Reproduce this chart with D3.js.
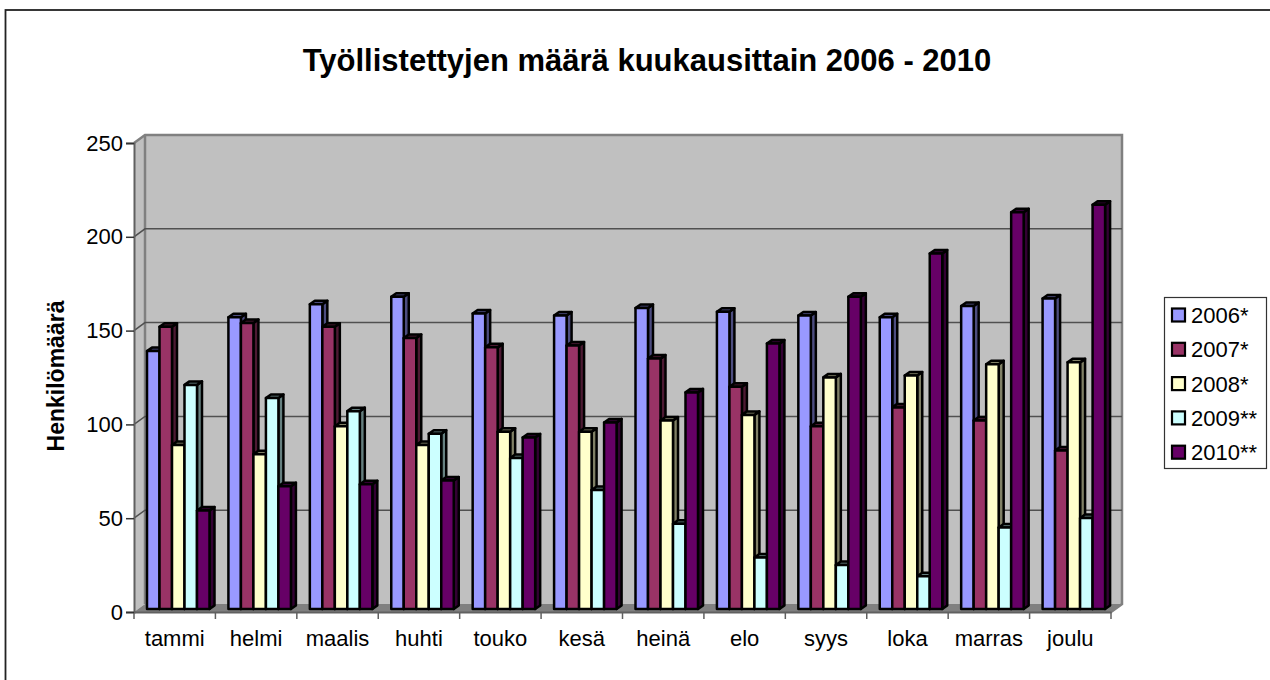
<!DOCTYPE html>
<html>
<head>
<meta charset="utf-8">
<script src="https://cdn.jsdelivr.net/npm/d3@7"></script>
<style>
    html, body { margin: 0; padding: 0; background: #fff; overflow: hidden; }
    svg { display: block; }
    text { font-family: "Liberation Sans", Arial, sans-serif; fill: #000; }
</style>
</head>
<body>
<div id="chart"></div>
<script>
const months = ["tammi", "helmi", "maalis", "huhti", "touko", "kesä", "heinä", "elo", "syys", "loka", "marras", "joulu"];
const seriesNames = ["2006*", "2007*", "2008*", "2009**", "2010**"];
const values2006 = [138, 156, 163, 167, 158, 157, 161, 159, 157, 156, 162, 166];
const values2007 = [151, 153, 151, 145, 140, 141, 134, 119, 98, 108, 101, 85];
const values2008 = [88, 83, 98, 88, 95, 95, 101, 104, 124, 125, 131, 132];
const values2009 = [120, 113, 106, 94, 81, 64, 46, 28, 24, 18, 44, 49];
const values2010 = [53, 66, 67, 69, 92, 100, 116, 142, 167, 190, 212, 216];
const yTicks = [0, 50, 100, 150, 200, 250];

const allValues = [values2006, values2007, values2008, values2009, values2010];
const fills = ["#9999ff", "#993366", "#ffffcc", "#ccffff", "#660066"];

const width = 1270;
const height = 680;
const axisLeft = 134;
const axisRight = 1111;
const axisBottom = 612;
const axisTop = 143;
// how far the back wall sits from the front axes
const wallDx = 11;
const wallDy = 8;
const barDx = 5;
const barDy = 3.5;

const svg = d3.select("#chart").append("svg")
    .attr("width", width)
    .attr("height", height);

// the frame runs off the canvas on the right and at the bottom
svg.append("rect")
    .attr("x", 5.5).attr("y", 10)
    .attr("width", 1300).attr("height", 700)
    .attr("fill", "#fff").attr("stroke", "#222").attr("stroke-width", 1.8);

const x = d3.scaleBand().domain(months).range([axisLeft, axisRight]);
const xSeries = d3.scaleBand().domain(seriesNames).range([13, 13 + 62.5]);
const y = d3.scaleLinear().domain([0, 250]).range([axisBottom, axisTop]);

// walls and floor
svg.append("polygon")
    .attr("points", [[axisLeft, axisTop], [axisLeft + wallDx, axisTop - wallDy], [axisLeft + wallDx, axisBottom - wallDy], [axisLeft, axisBottom]].join(" "))
    .attr("fill", "#c0c0c0");
svg.append("rect")
    .attr("x", axisLeft + wallDx).attr("y", axisTop - wallDy)
    .attr("width", axisRight - axisLeft).attr("height", axisBottom - axisTop)
    .attr("fill", "#c0c0c0");
svg.append("polygon")
    .attr("points", [[axisLeft, axisBottom], [axisLeft + wallDx, axisBottom - wallDy], [axisRight + wallDx, axisBottom - wallDy], [axisRight, axisBottom]].join(" "))
    .attr("fill", "#808080");

// back wall edges
svg.append("path")
    .attr("d", `M${axisLeft},${axisTop}L${axisLeft + wallDx},${axisTop - wallDy}H${axisRight + wallDx}V${axisBottom - wallDy}L${axisRight},${axisBottom}`)
    .attr("fill", "none").attr("stroke", "#808080").attr("stroke-width", 2.5);
svg.append("line")
    .attr("x1", axisLeft + wallDx).attr("x2", axisLeft + wallDx)
    .attr("y1", axisTop - wallDy).attr("y2", axisBottom - wallDy)
    .attr("stroke", "#808080").attr("stroke-width", 2.5);

// gridlines
const grid = svg.append("g");
yTicks.slice(1, -1).forEach((t) => {
    grid.append("path")
        .attr("d", `M${axisLeft},${y(t)}l${wallDx},${-wallDy}H${axisRight + wallDx}`)
        .attr("fill", "none").attr("stroke", "#505050").attr("stroke-width", 1.5);
});

// bars, one month at a time
const bw = xSeries.bandwidth();
months.forEach((m, i) => {
    const group = svg.append("g").attr("transform", `translate(${x(m)},0)`);
    seriesNames.forEach((s, k) => {
        const v = allValues[k][i];
        const x0 = xSeries(s);
        const yTop = y(v) - 2;
        const yBot = axisBottom - 3;
        const bar = group.append("g")
            .attr("stroke", "#000").attr("stroke-width", 2.5).attr("stroke-linejoin", "round");
        const c = d3.rgb(fills[k]);
        const shade = d3.rgb(c.r * 0.5, c.g * 0.5, c.b * 0.5);
        bar.append("polygon")
            .attr("points", [[x0 + bw, yTop], [x0 + bw + barDx, yTop - barDy], [x0 + bw + barDx, yBot - barDy], [x0 + bw, yBot]].join(" "))
            .attr("fill", shade);
        bar.append("polygon")
            .attr("points", [[x0, yTop], [x0 + barDx, yTop - barDy], [x0 + bw + barDx, yTop - barDy], [x0 + bw, yTop]].join(" "))
            .attr("fill", shade);
        bar.append("rect")
            .attr("x", x0).attr("y", yTop)
            .attr("width", bw).attr("height", yBot - yTop)
            .attr("fill", fills[k]);
    });
});

// axes
const xAxis = svg.append("g")
    .attr("transform", `translate(0,${axisBottom})`)
    .call(d3.axisBottom(x).tickSize(0).tickPadding(18));
xAxis.select(".domain").attr("stroke", "#606060").attr("stroke-width", 2);
xAxis.selectAll("text").style("font-size", "22px");
xAxis.selectAll(".tick-mark")
    .data(d3.range(months.length + 1))
    .enter().append("line")
    .attr("x1", (d) => axisLeft + d * x.bandwidth())
    .attr("x2", (d) => axisLeft + d * x.bandwidth())
    .attr("y1", 0).attr("y2", 7)
    .attr("stroke", "#606060").attr("stroke-width", 1.5);

const yAxis = svg.append("g")
    .attr("transform", `translate(${axisLeft},0)`)
    .call(d3.axisLeft(y).tickValues(yTicks).tickSize(8).tickPadding(3));
yAxis.select(".domain").attr("stroke", "#606060").attr("stroke-width", 2);
yAxis.selectAll("line").attr("stroke", "#333").attr("stroke-width", 1.5);
yAxis.selectAll("text").style("font-size", "22px");

// titles
svg.append("text")
    .attr("x", 647).attr("y", 71)
    .attr("text-anchor", "middle")
    .style("font-size", "31px").style("font-weight", "bold")
    .text("Työllistettyjen määrä kuukausittain 2006 - 2010");

svg.append("text")
    .attr("transform", "translate(64,376) rotate(-90)")
    .attr("text-anchor", "middle")
    .style("font-size", "23px").style("font-weight", "bold")
    .text("Henkilömäärä");

// legend
const legend = svg.append("g");
legend.append("rect")
    .attr("x", 1164.5).attr("y", 297.5)
    .attr("width", 102).attr("height", 171)
    .attr("fill", "#fff").attr("stroke", "#333").attr("stroke-width", 1.2);
seriesNames.forEach((s, k) => {
    const ly = 315 + k * 34.3;
    legend.append("rect")
        .attr("x", 1172).attr("y", ly - 6.5)
        .attr("width", 13).attr("height", 13)
        .attr("fill", fills[k]).attr("stroke", "#000").attr("stroke-width", 2.2);
    legend.append("text")
        .attr("x", 1191).attr("y", ly + 8)
        .style("font-size", "22px")
        .text(s);
});
</script>
</body>
</html>
